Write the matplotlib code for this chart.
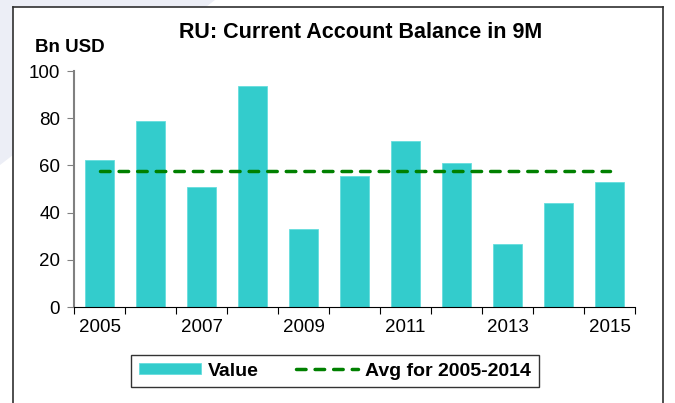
import matplotlib

matplotlib.use("Agg")
import matplotlib.pyplot as plt
from matplotlib.patches import Polygon, Rectangle
from matplotlib.lines import Line2D

plt.rcParams["font.family"] = ["Liberation Sans", "DejaVu Sans"]

years = [2005, 2006, 2007, 2008, 2009, 2010, 2011, 2012, 2013, 2014, 2015]
values = [62.4, 78.7, 50.7, 93.6, 33.0, 55.6, 70.2, 60.9, 26.7, 44.1, 52.8]
avg_2005_2014 = [57.7] * len(years)
yticks = [0, 20, 40, 60, 80, 100]

W, H = 675, 403
fig = plt.figure(figsize=(W / 100, H / 100), dpi=100)

# faint decorative shape in the top-left corner, mostly hidden by the white frame
fig.patches.append(Polygon([(0, 1), (215 / W, 1), (0, 1 - 165 / H)], closed=True,
                           transform=fig.transFigure, facecolor="#eceef6",
                           edgecolor="none", zorder=-6))
fx0, fx1, fy1 = 13 / W, 663 / W, 1 - 7 / H
fig.patches.append(Rectangle((fx0, 0), fx1 - fx0, fy1, transform=fig.transFigure,
                             facecolor="white", edgecolor="none", zorder=-5))
for xs, ys in [([fx0, fx0], [0, fy1]), ([fx0, fx1], [fy1, fy1]), ([fx1, fx1], [fy1, 0])]:
    fig.lines.append(Line2D(xs, ys, transform=fig.transFigure, color="#303030",
                            linewidth=1.2))

ax = fig.add_axes([74 / W, 1 - 307 / H, (635 - 74) / W, (307 - 71) / H])
ax.set_facecolor("none")
x = list(range(len(years)))
bars = ax.bar(x, values, width=0.57, color="#33cccc", edgecolor="#66dddd",
              linewidth=0.6, label="Value", zorder=2)
avg_line, = ax.plot(x, avg_2005_2014, color="#008000", linestyle=(0, (2.75, 2.6)),
                    dash_capstyle="round", linewidth=2.5,
                    label="Avg for 2005-2014", zorder=3)

ax.set_xlim(-0.5, len(years) - 0.5)
ax.set_ylim(0, 100)
ax.set_yticks(yticks)
ax.tick_params(axis="y", labelsize=13.5, length=5, color="#808080", pad=5)
ax.set_xticks([i - 0.5 for i in range(len(years) + 1)])
ax.set_xticklabels([])
ax.set_xticks(x[::2], minor=True)
ax.set_xticklabels([str(y) for y in years[::2]], minor=True)
ax.tick_params(axis="x", which="major", length=5, color="black")
ax.tick_params(axis="x", which="minor", length=0, labelsize=13.5, pad=9)

for s in ["top", "right"]:
    ax.spines[s].set_visible(False)
ax.spines["left"].set_color("#808080")
ax.spines["left"].set_linewidth(1.5)
ax.spines["bottom"].set_color("black")

fig.text(361 / W, 1 - 32 / H, "RU: Current Account Balance in 9M",
         ha="center", va="center", fontsize=15.5, fontweight="bold")
fig.text(35 / W, 1 - 47 / H, "Bn USD", ha="left", va="center",
         fontsize=13.5, fontweight="bold")

leg = fig.legend([bars, avg_line], ["Value", "Avg for 2005-2014"],
                 loc="center", bbox_to_anchor=(335 / W, 1 - 371 / H), ncol=2,
                 frameon=True, fancybox=False, edgecolor="black",
                 prop={"size": 14, "weight": "bold"}, handlelength=3.2,
                 handleheight=0.5, columnspacing=1.9, handletextpad=0.35,
                 borderpad=0.4)
leg.get_frame().set_linewidth(1.0)

fig.savefig("out.png", dpi=100)
